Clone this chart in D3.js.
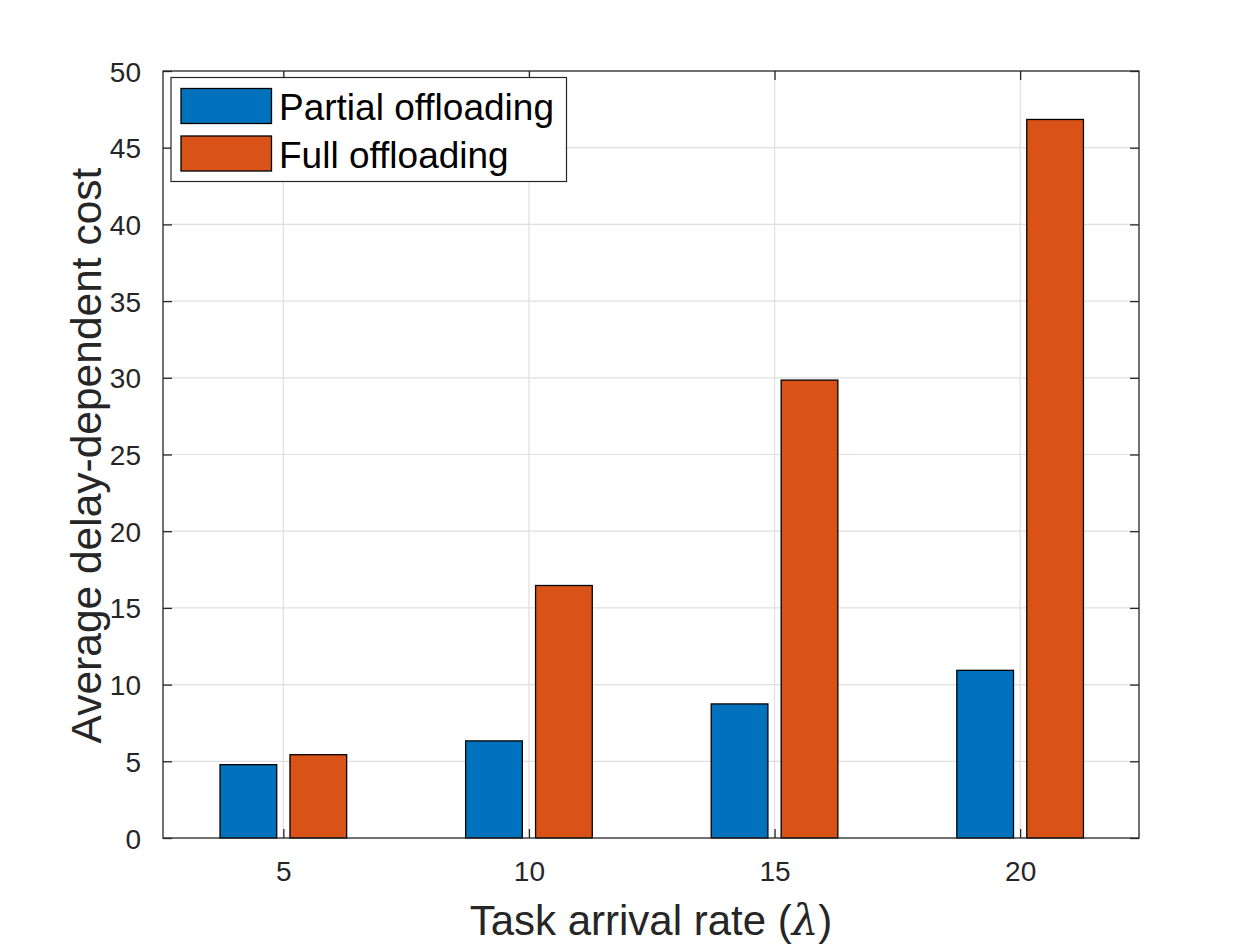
<!DOCTYPE html>
<html>
<head>
<meta charset="utf-8">
<script src="https://cdn.jsdelivr.net/npm/d3@7"></script>
<style>
  body { margin: 0; background: #fff; }
  text { font-family: "Liberation Sans", Arial, Helvetica, sans-serif; }
</style>
</head>
<body>
<div id="chart"></div>
<script>
// data
const rates = [5, 10, 15, 20];
const partial = [4.78, 6.33, 8.74, 10.93];
const full = [5.43, 16.46, 29.85, 46.84];
const seriesNames = ["Partial offloading", "Full offloading"];
const seriesColors = ["#0072BD", "#D95319"];
const yTicks = [0, 5, 10, 15, 20, 25, 30, 35, 40, 45, 50];

const W = 1260, H = 945;
const margin = { top: 71, right: 121, bottom: 107, left: 163 };
const width = W - margin.left - margin.right;
const height = H - margin.top - margin.bottom;
const axColor = "#262626";

const svg = d3.select("#chart")
    .append("svg")
    .attr("width", W)
    .attr("height", H);

const g = svg.append("g")
    .attr("transform", `translate(${margin.left},${margin.top})`);

const x = d3.scaleLinear().domain([2.55, 22.42]).range([0, width]);
const y = d3.scaleLinear().domain([0, 50]).range([height, 0]);

const barW = 1.154, barOff = 0.712;

// grid
g.append("g").selectAll("line.gy")
    .data(yTicks.slice(1, -1))
    .enter().append("line")
    .attr("x1", 0).attr("x2", width)
    .attr("y1", d => y(d)).attr("y2", d => y(d))
    .attr("stroke", "#dfdfdf").attr("stroke-width", 1.2);

g.append("g").selectAll("line.gx")
    .data(rates)
    .enter().append("line")
    .attr("x1", d => x(d)).attr("x2", d => x(d))
    .attr("y1", 0).attr("y2", height)
    .attr("stroke", "#dfdfdf").attr("stroke-width", 1.2);

// bars
const series = [partial, full];
series.forEach(function(vals, si) {
    const off = si === 0 ? -barOff : barOff;
    g.append("g").selectAll("rect")
        .data(vals)
        .enter().append("rect")
        .attr("x", (d, i) => x(rates[i] + off - barW / 2))
        .attr("width", x(barW) - x(0))
        .attr("y", d => y(d))
        .attr("height", d => y(0) - y(d))
        .attr("fill", seriesColors[si])
        .attr("stroke", "#000")
        .attr("stroke-width", 1.3);
});

// axes (MATLAB-like, inward ticks on all sides)
const tl = 9;
const axL = g.append("g").call(d3.axisLeft(y).tickValues(yTicks).tickSizeInner(-tl).tickSizeOuter(0).tickPadding(13 + tl));
const axR = g.append("g").attr("transform", `translate(${width},0)`)
    .call(d3.axisRight(y).tickValues(yTicks).tickSizeInner(-tl).tickSizeOuter(0).tickFormat(""));
const axB = g.append("g").attr("transform", `translate(0,${height})`)
    .call(d3.axisBottom(x).tickValues(rates).tickSizeInner(-tl).tickSizeOuter(0).tickPadding(14 + tl));
const axT = g.append("g")
    .call(d3.axisTop(x).tickValues(rates).tickSizeInner(-tl).tickSizeOuter(0).tickFormat(""));

[axL, axR, axB, axT].forEach(function(a) {
    a.select(".domain").remove();
    a.selectAll("line").attr("stroke", axColor).attr("stroke-width", 1.3);
    a.selectAll("text").attr("fill", axColor).style("font-size", "28px")
        .style("font-family", '"Liberation Sans", Arial, sans-serif');
});
axL.selectAll("text").attr("dy", "0.36em");
axB.selectAll("text").attr("dy", "0.71em");

g.append("rect")
    .attr("width", width).attr("height", height)
    .attr("fill", "none").attr("stroke", axColor).attr("stroke-width", 1.3);

// axis labels
const xl = svg.append("text")
    .attr("x", margin.left + width / 2).attr("y", 935)
    .attr("text-anchor", "middle")
    .attr("fill", axColor).style("font-size", "42px");
xl.append("tspan").text("Task arrival rate (");
xl.append("tspan").style("font-family", '"DejaVu Serif", "Liberation Serif", serif')
    .style("font-style", "italic").text("λ");
xl.append("tspan").text(")");

svg.append("text")
    .attr("transform", `translate(101,${margin.top + height / 2 + 1}) rotate(-90)`)
    .attr("text-anchor", "middle")
    .attr("fill", axColor).style("font-size", "42.5px")
    .text("Average delay-dependent cost");

// legend
const lg = svg.append("g");
lg.append("rect")
    .attr("x", 171).attr("y", 77.5).attr("width", 395.5).attr("height", 104)
    .attr("fill", "#fff").attr("stroke", axColor).attr("stroke-width", 1.2);
const items = lg.selectAll("g.item")
    .data(seriesNames)
    .enter().append("g")
    .attr("transform", (d, i) => `translate(0,${i * 47.5})`);
items.append("rect")
    .attr("x", 181).attr("y", 88.5).attr("width", 90.5).attr("height", 35)
    .attr("fill", (d, i) => seriesColors[i])
    .attr("stroke", "#000").attr("stroke-width", 1.3);
items.append("text")
    .attr("x", 279).attr("y", 120)
    .attr("fill", "#000").style("font-size", "37px")
    .text(d => d);
</script>
</body>
</html>
